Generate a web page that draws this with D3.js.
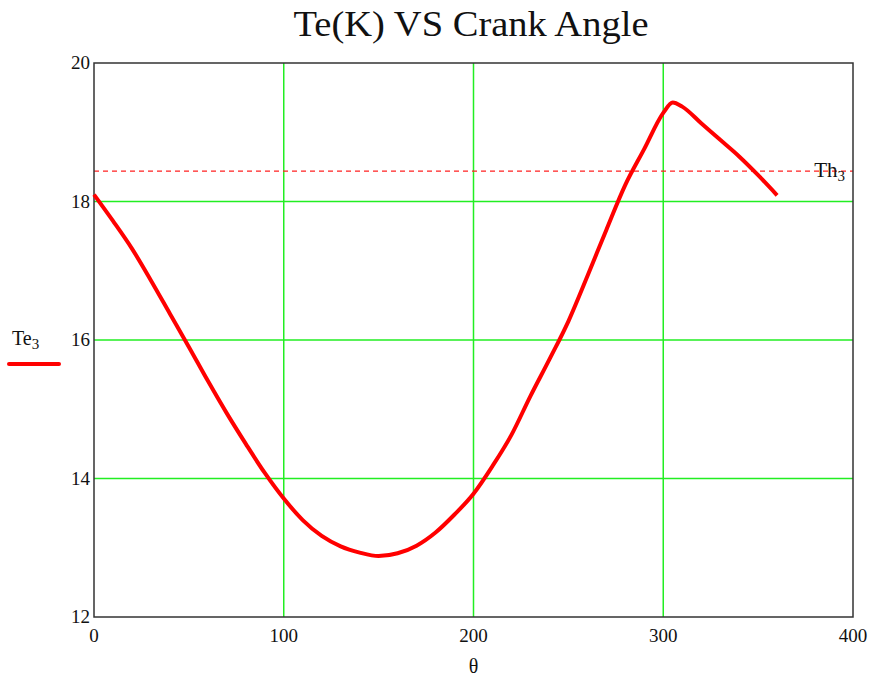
<!DOCTYPE html>
<html lang="en">
<head>
  <meta charset="UTF-8">
  <title>Te(K) VS Crank Angle</title>
  <script src="https://d3js.org/d3.v7.min.js"></script>
  <style>
    body { margin: 0; background: #fff; }
    text { font-family: 'Liberation Serif', 'Times New Roman', serif; fill: #111; }
  </style>
</head>
<body>
  <script>
    // crank angle (deg) and Te3 values
    var theta = [0, 10, 20, 30, 40, 50, 60, 70, 80, 90, 100, 110, 120, 130, 140, 150, 160, 170, 180,
      190, 200, 210, 220, 230, 240, 250, 260, 270, 280, 290, 300, 305, 310, 320, 330, 340, 350, 360];
    var te3 = [18.10, 17.72, 17.32, 16.86, 16.38, 15.90, 15.41, 14.94, 14.50, 14.08, 13.71, 13.40, 13.17,
      13.02, 12.93, 12.88, 12.92, 13.03, 13.22, 13.48, 13.78, 14.18, 14.63, 15.19, 15.72, 16.27, 16.92,
      17.59, 18.24, 18.76, 19.28, 19.43, 19.37, 19.13, 18.89, 18.65, 18.38, 18.09];
    var th3 = 18.44;

    var xTicks = [0, 100, 200, 300, 400];
    var yTicks = [12, 14, 16, 18, 20];

    var width = 878, height = 686;
    var margin = { top: 63, right: 25, bottom: 69, left: 94 };

    var svg = d3.select("body").append("svg")
      .attr("width", width)
      .attr("height", height);

    var x = d3.scaleLinear().domain([0, 400]).range([margin.left, width - margin.right]);
    var y = d3.scaleLinear().domain([12, 20]).range([height - margin.bottom, margin.top]);

    // grid
    svg.append("g").selectAll("line")
      .data(xTicks.slice(1, -1))
      .enter().append("line")
      .attr("x1", x).attr("x2", x)
      .attr("y1", y(12)).attr("y2", y(20))
      .attr("stroke", "#22ee22").attr("stroke-width", 1.5);

    svg.append("g").selectAll("line")
      .data(yTicks.slice(1, -1))
      .enter().append("line")
      .attr("x1", x(0)).attr("x2", x(400))
      .attr("y1", y).attr("y2", y)
      .attr("stroke", "#22ee22").attr("stroke-width", 1.5);

    // Th3 dashed line
    svg.append("line")
      .attr("x1", x(0)).attr("x2", x(400))
      .attr("y1", y(th3)).attr("y2", y(th3))
      .attr("stroke", "#ff2020").attr("stroke-width", 1.2)
      .attr("stroke-dasharray", "5,4");

    var th = svg.append("text")
      .attr("x", x(400) - 8).attr("y", y(th3) + 6)
      .attr("text-anchor", "end")
      .style("font-size", "21px");
    th.append("tspan").text("Th");
    th.append("tspan").attr("dy", 4).style("font-size", "15px").text("3");

    // frame
    svg.append("rect")
      .attr("x", x(0)).attr("y", y(20))
      .attr("width", x(400) - x(0)).attr("height", y(12) - y(20))
      .attr("fill", "none").attr("stroke", "#333").attr("stroke-width", 1.5);

    // curve
    var line = d3.line()
      .x(function (d, i) { return x(theta[i]); })
      .y(function (d) { return y(d); })
      .curve(d3.curveMonotoneX);

    svg.append("path")
      .datum(te3)
      .attr("fill", "none")
      .attr("stroke", "#ff0000")
      .attr("stroke-width", 4)
      .attr("stroke-linejoin", "round")
      .attr("d", line);

    // tick labels
    svg.append("g").selectAll("text")
      .data(yTicks)
      .enter().append("text")
      .attr("x", x(0) - 4)
      .attr("y", function (d) { return y(d) + 6; })
      .attr("text-anchor", "end")
      .style("font-size", "19px")
      .text(function (d) { return d; });

    svg.append("g").selectAll("text")
      .data(xTicks)
      .enter().append("text")
      .attr("x", x)
      .attr("y", y(12) + 25)
      .attr("text-anchor", "middle")
      .style("font-size", "19px")
      .text(function (d) { return d; });

    // axis titles
    svg.append("text")
      .attr("x", x(200)).attr("y", y(12) + 56)
      .attr("text-anchor", "middle")
      .style("font-size", "20px")
      .text("θ");

    var yl = svg.append("text")
      .attr("x", 12).attr("y", 345)
      .style("font-size", "20px");
    yl.append("tspan").text("Te");
    yl.append("tspan").attr("dy", 4).style("font-size", "15px").text("3");

    svg.append("line")
      .attr("x1", 9).attr("x2", 59)
      .attr("y1", 364).attr("y2", 364)
      .attr("stroke", "#ff0000").attr("stroke-width", 4)
      .attr("stroke-linecap", "round");

    // title
    svg.append("text")
      .attr("x", 471).attr("y", 36)
      .attr("text-anchor", "middle")
      .attr("textLength", 355)
      .attr("lengthAdjust", "spacingAndGlyphs")
      .style("font-size", "35px")
      .text("Te(K) VS Crank Angle");
  </script>
</body>
</html>
